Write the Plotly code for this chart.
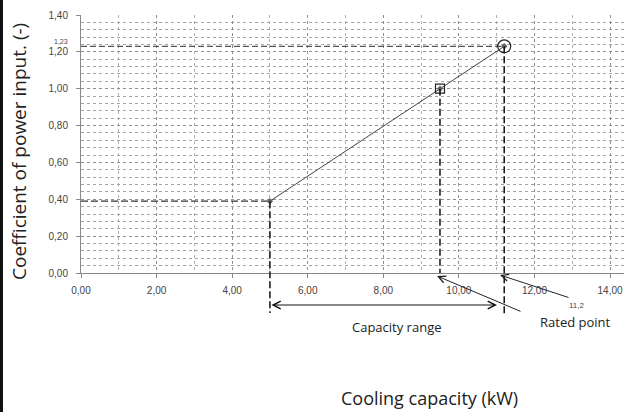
import plotly.graph_objects as go

# ---- data ----
cap_kw = [5.0, 9.5, 11.2]          # cooling capacity (kW)
coef = [0.39, 1.00, 1.23]          # coefficient of power input (-)
x_ticks = [0, 2, 4, 6, 8, 10, 12, 14]
y_ticks = [0.0, 0.2, 0.4, 0.6, 0.8, 1.0, 1.2, 1.4]
rated_cap = 11.2
rated_coef = 1.23
min_cap = 5.0
min_coef = 0.39
mid_cap = 9.5
mid_coef = 1.00

# ---- geometry (pixels) ----
W, H = 624, 412
L, R, T, B = 81, 624, 15, 273
XR = [0, 14.37]
YR = [0, 1.4]
ppx = (R - L) / (XR[1] - XR[0])
ppy = (B - T) / (YR[1] - YR[0])
X2R = [XR[0] - L / ppx, XR[1] + (W - R) / ppx]
Y2R = [YR[0] - (H - B) / ppy, YR[1] + T / ppy]

def px2x(p):
    return XR[0] + (p - L) / ppx

def px2y(p):
    return YR[0] - (p - B) / ppy

fig = go.Figure()

# horizontal guide at rated point
fig.add_trace(go.Scatter(x=[0, rated_cap], y=[rated_coef, rated_coef], mode="lines",
                         line=dict(color="#555", width=1.4, dash="6px,3px"),
                         xaxis="x", yaxis="y", showlegend=False, hoverinfo="skip"))
# horizontal guide at minimum point
fig.add_trace(go.Scatter(x=[0, min_cap], y=[min_coef, min_coef], mode="lines",
                         line=dict(color="#333", width=1.4, dash="7px,3px"),
                         xaxis="x", yaxis="y", showlegend=False, hoverinfo="skip"))
# vertical guides (extend below the axis)
for xv, yv, ybot in [(min_cap, min_coef, px2y(313)), (mid_cap, mid_coef, 0.0),
                     (rated_cap, rated_coef, px2y(316))]:
    fig.add_trace(go.Scatter(x=[xv, xv], y=[yv, ybot], mode="lines",
                             line=dict(color="#111", width=1.5, dash="7px,3px"),
                             xaxis="x2", yaxis="y2", showlegend=False, hoverinfo="skip"))

# data line
fig.add_trace(go.Scatter(x=cap_kw, y=coef, mode="lines+markers",
                         line=dict(color="#444", width=1),
                         marker=dict(color="#666", size=5, symbol="diamond"),
                         xaxis="x", yaxis="y", showlegend=False, hoverinfo="skip"))
# hand-drawn square and circle
fig.add_trace(go.Scatter(x=[mid_cap], y=[mid_coef], mode="markers",
                         marker=dict(symbol="square-open", size=9, color="#222", line=dict(width=1.2)),
                         xaxis="x", yaxis="y", showlegend=False, hoverinfo="skip"))
fig.add_trace(go.Scatter(x=[rated_cap], y=[rated_coef], mode="markers",
                         marker=dict(symbol="circle-open", size=13, color="#222", line=dict(width=1.2)),
                         xaxis="x", yaxis="y", showlegend=False, hoverinfo="skip"))

grid = dict(showgrid=True, gridcolor="#8f8f8f", griddash="dot", gridwidth=1)
fig.update_layout(
    width=W, height=H, margin=dict(l=0, r=0, t=0, b=0),
    paper_bgcolor="white", plot_bgcolor="rgba(0,0,0,0)",
    separators=",.",
    xaxis=dict(domain=[L / W, R / W], range=XR, tickvals=x_ticks, tickformat=".2f",
               ticks="outside", ticklen=4, tickcolor="#888", showline=True, linecolor="#888",
               zeroline=False, automargin=False, ticklabelstandoff=4,
               tickfont=dict(family="Liberation Sans", size=10, color="#444"),
               minor=dict(dtick=1, tick0=0, showgrid=True, gridcolor="#b0b0b0", griddash="dot"),
               anchor="y", **grid),
    yaxis=dict(domain=[1 - B / H, 1 - T / H], range=YR, tickvals=y_ticks, tickformat=".2f",
               ticks="outside", ticklen=4, tickcolor="#888", showline=True, linecolor="#888",
               zeroline=False, automargin=False, ticklabelstandoff=6,
               tickfont=dict(family="Liberation Sans", size=10, color="#444"),
               minor=dict(dtick=0.04, tick0=0, showgrid=True, gridcolor="#a5a5a5", griddash="dot"),
               anchor="x", **grid),
    xaxis2=dict(domain=[0, 1], range=X2R, visible=False, anchor="y2", fixedrange=True),
    yaxis2=dict(domain=[0, 1], range=Y2R, visible=False, anchor="x2", fixedrange=True),
)

# capacity range double arrow
y_arrow = px2y(305)
fig.add_annotation(x=px2x(497), y=y_arrow, ax=min_cap, ay=y_arrow, xref="x2", yref="y2",
                   axref="x2", ayref="y2", text="", showarrow=True, arrowside="end+start",
                   arrowhead=5, arrowsize=1.5, arrowwidth=1, arrowcolor="#111")
# rated point arrows
fig.add_annotation(x=px2x(437), y=px2y(276), ax=px2x(522), ay=px2y(312), xref="x2", yref="y2",
                   axref="x2", ayref="y2", text="", showarrow=True,
                   arrowhead=5, arrowsize=1.4, arrowwidth=1, arrowcolor="#222")
fig.add_annotation(x=px2x(500), y=px2y(275), ax=px2x(570), ay=px2y(298), xref="x2", yref="y2",
                   axref="x2", ayref="y2", text="", showarrow=True,
                   arrowhead=5, arrowsize=1.4, arrowwidth=1, arrowcolor="#222")

txt = dict(xref="paper", yref="paper", showarrow=False, xanchor="center", yanchor="middle")
fig.add_annotation(x=397 / W, y=1 - 327 / H, text="Capacity range",
                   font=dict(family="Open Sans", size=13, color="#222"), **txt)
fig.add_annotation(x=575 / W, y=1 - 322 / H, text="Rated point",
                   font=dict(family="Open Sans", size=13, color="#222"), **txt)
fig.add_annotation(x=577 / W, y=1 - 305 / H, text="11,2",
                   font=dict(family="Liberation Sans", size=8, color="#444"), **txt)
fig.add_annotation(x=61 / W, y=1 - 42 / H, text="1,23",
                   font=dict(family="Liberation Sans", size=7, color="#444"), **txt)
fig.add_annotation(x=429 / W, y=1 - 398 / H, text="Cooling capacity (kW)",
                   font=dict(family="Open Sans", size=18, color="#222"), **txt)
fig.add_annotation(x=19 / W, y=1 - 152 / H, text="Coefficient of power input. (-)", textangle=-90,
                   font=dict(family="Open Sans", size=19, color="#222"), **txt)

# left border of the scanned frame
fig.add_shape(type="line", xref="paper", yref="paper", x0=1.5 / W, x1=1.5 / W, y0=0, y1=1,
              line=dict(color="#111", width=3))

fig.write_html("out.html")
